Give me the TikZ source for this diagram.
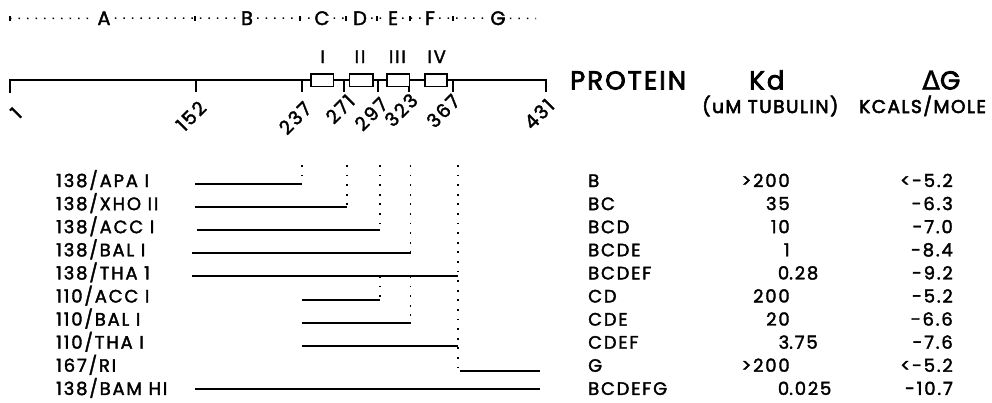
\documentclass[tikz,border=0pt]{standalone}
\usepackage{fontspec}
\setmainfont{Poppins}
\newfontfamily\bodyfont{Poppins}[LetterSpace=10,FakeBold=2]
\newfontfamily\headfont{Poppins}[LetterSpace=8,FakeBold=3]
\newfontfamily\symfont{DejaVu Sans}[FakeBold=1.5]
\begin{document}
\begin{tikzpicture}[x=1pt,y=-1pt,
  every node/.style={inner sep=0pt},
  body/.style={font=\bodyfont\fontsize{18}{19}\selectfont},
  head/.style={font=\headfont\fontsize{26}{28}\selectfont},
  sub/.style={font=\headfont\fontsize{18.5}{20}\selectfont},
  axis/.style={line width=2pt},
  seg/.style={line width=1.9pt},
  vdots/.style={line width=1.9pt, dash pattern=on 1.8pt off 7.8pt},
  hdots/.style={line width=1.5pt, dash pattern=on 1.5pt off 7pt},
  domainbox/.style={draw, line width=1.6pt, fill=white, minimum height=12.6pt},
  region/.style={body, font=\bodyfont\fontsize{19.5}{20}\selectfont, anchor=base, inner xsep=4pt},
  tick label/.style={body, font=\bodyfont\fontsize{19}{20}\selectfont, rotate=45},
]
\useasboundingbox (0,0) rectangle (992,402);

% ---- region letters on the dotted line ----
\node[region] (sA) at (104,25) {A};
\node[region] (sB) at (247,25) {B};
\node[region] (sC) at (322,25) {C};
\node[region] (sD) at (360,25) {D};
\node[region] (sE) at (393,25) {E};
\node[region] (sF) at (430,25) {F};
\node[region] (sG) at (498,25) {G};
\coordinate (d0) at (10,18.5);
\coordinate (d9) at (536,18.5);
\draw[hdots] (d0) -- (sA) (sA) -- (sB) (sB) -- (sC) (sC) -- (sD)
  (sD) -- (sE) (sE) -- (sF) (sF) -- (sG) (sG) -- (d9);
\foreach \x in {10,195,300,346,377,410,453}
  \draw[line width=1.2pt] (\x,16) -- (\x,21);

% ---- sequence axis ----
\coordinate (a1)   at (10,80);
\coordinate (a152) at (196,80);
\coordinate (a237) at (302,80);
\coordinate (a271) at (344,80);
\coordinate (a297) at (378,80);
\coordinate (a323) at (409,80);
\coordinate (a367) at (453,80);
\coordinate (a431) at (546,80);
\draw[axis] (a1) ++(0,13) -- (a1) -- (a431) -- ++(0,12);
\foreach \t in {a152,a237,a271,a297,a323,a367}
  \draw[axis] (\t) -- ++(0,12);

% repeat boxes
\node[domainbox, minimum width=22.6pt] (bI)   at (322,80.3) {};
\node[domainbox, minimum width=23.4pt] (bII)  at (361,80.3) {};
\node[domainbox, minimum width=22.6pt] (bIII) at (398,80.3) {};
\node[domainbox, minimum width=22.3pt] (bIV)  at (436,80.3) {};
\node[body, anchor=base] (nI)   at (322.7,63) {I};
\node[body, anchor=base] (nII)  at (360,63) {II};
\node[body, anchor=base] (nIII) at (397.3,63) {III};
\node[body, anchor=base] (nIV)  at (436.7,63) {IV};

% residue numbers
\node[tick label] (l1)   at (16,113)  {1};
\node[tick label] (l152) at (191,116) {152};
\node[tick label] (l237) at (295,118) {237};
\node[tick label] (l271) at (340,109) {271};
\node[tick label] (l297) at (371,114) {297};
\node[tick label] (l323) at (401,110) {323};
\node[tick label] (l367) at (443,111) {367};
\node[tick label] (l431) at (539,114) {431};

% ---- column headings ----
\node[head, anchor=base west] (hP)  at (570,89.5) {PROTEIN};
\node[head, anchor=base west] (hK)  at (749,89.5) {Kd};
\node[head, anchor=base west] (hG)  at (922,89.5) {{\symfont Δ}G};
\node[sub, anchor=base west] (hK2) at (702,113) {(uM TUBULIN)};
\node[sub, anchor=base west] (hG2) at (859,113) {KCALS/MOLE};

% ---- constructs ----
\foreach \n/\b/\lab/\prot/\kd/\dg in {
  1/187/{138/APA I}/B/{\llap{>200}}/{<-5.2},
  2/210.1/{138/XHO II}/BC/{\llap{35}}/{-6.3},
  3/233.2/{138/ACC I}/BCD/{\llap{10}}/{-7.0},
  4/256.3/{138/BAL I}/BCDE/{\llap{1}}/{-8.4},
  5/279.4/{138/THA 1}/BCDEF/{\llap{0}.28}/{-9.2},
  6/302.5/{110/ACC I}/CD/{\llap{200}}/{-5.2},
  7/325.6/{110/BAL I}/CDE/{\llap{20}}/{-6.6},
  8/348.7/{110/THA I}/CDEF/{\llap{3}.75}/{-7.6},
  9/371.8/{167/RI}/G/{\llap{>200}}/{<-5.2},
  10/394.9/{138/BAM HI}/BCDEFG/{\llap{0}.025}/{-10.7}}{
  \node[body, anchor=base west] (r\n) at (56,\b) {\lab};
  \node[body, anchor=base west] (p\n) at (588,\b) {\prot};
  \node[body, anchor=base west] (k\n) at (789,\b) {\kd};
  \node[body, anchor=base east] (g\n) at (953,\b) {\dg};
}

% fragment extents
\coordinate (s1) at (195,184);    \coordinate (e1) at (301.7,184);
\coordinate (s2) at (195,207);    \coordinate (e2) at (347,207);
\coordinate (s3) at (197,230);    \coordinate (e3) at (380,230);
\coordinate (s4) at (192,253);    \coordinate (e4) at (410.5,253);
\coordinate (s5) at (192,276);    \coordinate (e5) at (458,276);
\coordinate (s6) at (301.7,300);  \coordinate (e6) at (380,300);
\coordinate (s7) at (301.7,323);  \coordinate (e7) at (410.5,323);
\coordinate (s8) at (301.7,346);  \coordinate (e8) at (458,346);
\coordinate (s9) at (460,371);    \coordinate (e9) at (540,371);
\coordinate (s10) at (195,389);   \coordinate (e10) at (540,389);
\foreach \n in {1,...,10} \draw[seg] (s\n) -- (e\n);

% boundary guides
\coordinate (v237) at (301.7,165);
\coordinate (v271) at (347,165);
\coordinate (v297) at (380,165);
\coordinate (v323) at (410.5,165);
\coordinate (v367) at (458,165);
\coordinate (w297) at (380,276);
\coordinate (w323) at (410.5,276);
\coordinate (w367) at (458,371);
\draw[vdots] (v237) -- (e1);
\draw[vdots] (v271) -- (e2);
\draw[vdots] (v297) -- (e3);
\draw[vdots] (v323) -- (e4);
\draw[vdots] (v367) -- (w367);
\draw[vdots] (w297) -- (e6);
\draw[vdots] (w323) -- (e7);
\end{tikzpicture}
\end{document}
